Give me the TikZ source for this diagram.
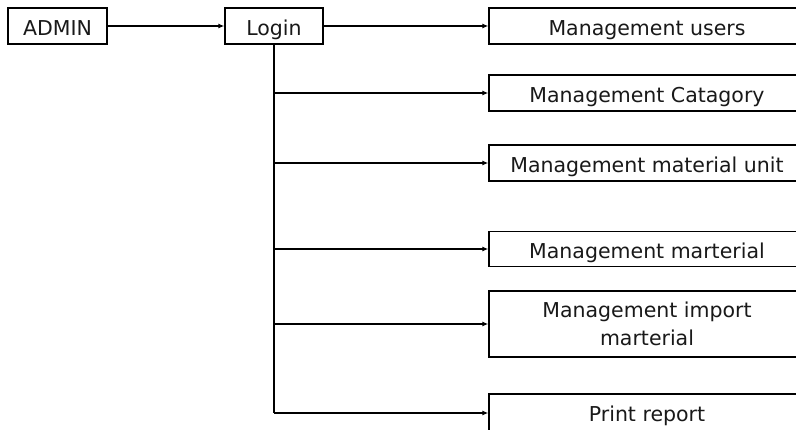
\documentclass[tikz,border=0pt]{standalone}
\usepackage{fontspec}
\setmainfont{DejaVu Sans}
\usetikzlibrary{arrows.meta}
\tikzset{
  box/.style={draw=black, line width=1.3pt, fill=white, inner sep=0pt, align=center,
    font=\fontsize{20.5}{27}\selectfont, text=black!90, text height=19pt, text depth=0pt},
  leaf/.style={box, minimum width=316pt},
  link/.style={line width=1.7pt, -{Latex[length=6pt,width=5pt]}},
  trunk/.style={line width=2pt}
}
\begin{document}
\begin{tikzpicture}[x=1pt,y=-1pt]
  \useasboundingbox (0,0) rectangle (796,430);
  \fill[white] (0,0) rectangle (796,430);
  \clip (0,0) rectangle (796,430);

  \node[box, minimum width=99pt, minimum height=36pt] (admin) at (57.5,26) {ADMIN};
  \node[box, minimum width=98pt, minimum height=36pt] (login) at (274,26) {Login};

  \node[leaf, minimum height=36pt] (users) at (647,26) {Management users};
  \node[leaf, minimum height=36pt] (cat) at (647,93) {Management Catagory};
  \node[leaf, minimum height=36pt] (unit) at (647,163) {Management material unit};
  \node[leaf, minimum height=35pt] (mat) at (647,249) {Management marterial};
  \node[leaf, minimum height=66pt, text height=, text depth=] (imp) at (647,324)
    {\raisebox{-3pt}{\shortstack{Management import\\[5pt]marterial}}};
  \node[leaf, minimum height=40pt] (rep) at (647,414) {\raisebox{2pt}{Print report}};

  \draw[link] (admin.east) -- (login.west);
  \draw[link] (login.east) -- (users.west);

  \coordinate (end) at (login.south |- 0,413);
  \draw[trunk] (login.south) -- (end);

  \draw[link] (login.south |- cat.west) -- (cat.west);
  \draw[link] (login.south |- unit.west) -- (unit.west);
  \draw[link] (login.south |- mat.west) -- (mat.west);
  \draw[link] (login.south |- imp.west) -- (imp.west);
  \draw[link] (end) -- (rep.west |- end);
\end{tikzpicture}
\end{document}
